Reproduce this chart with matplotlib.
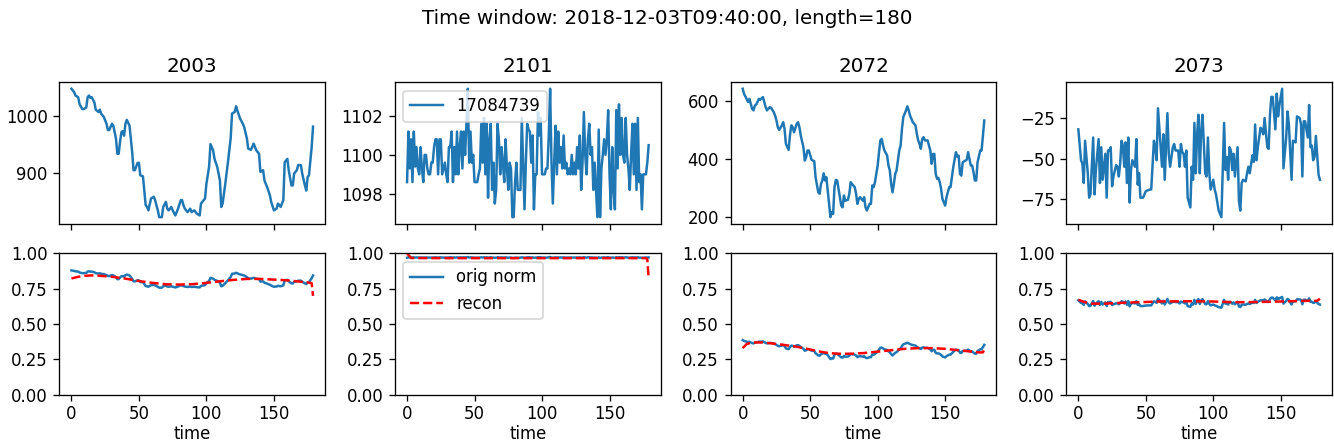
import matplotlib
matplotlib.use("Agg")
import matplotlib.pyplot as plt
import numpy as np

sensors = ["2003", "2101", "2072", "2073"]
legend_id = "17084739"
suptitle = "Time window: 2018-12-03T09:40:00, length=180"

# ---- sensor 2003 (time, value) ----
t_2003 = [0, 2, 3, 5, 6, 8, 9, 11, 12, 13, 14, 15, 17, 18, 20, 21, 22, 24, 26, 27, 28, 30, 31, 33, 34, 35, 36, 37, 38, 39,
          40, 41, 43, 44, 45, 46, 47, 49, 50, 51, 53, 55, 56, 57, 59, 61, 62, 64, 65, 67, 68, 70, 71, 72, 74, 75, 77, 79,
          81, 82, 83, 84, 86, 88, 89, 91, 93, 95, 96, 97, 99, 100, 102, 103, 105, 106, 108, 110, 111, 112, 114, 116, 118,
          119, 121, 122, 123, 125, 127, 128, 130, 131, 133, 135, 136, 137, 139, 140, 142, 143, 145, 147, 148, 150, 152,
          153, 155, 157, 158, 160, 161, 163, 164, 165, 167, 168, 170, 171, 173, 174, 175, 176, 178, 179]
v_2003 = [1049, 1043, 1037, 1034, 1022, 1013, 1013, 1016, 1034, 1037, 1033, 1034, 1025, 1012, 1008, 1012, 1005, 999, 987,
          976, 976, 987, 984, 961, 934, 934, 955, 972, 974, 966, 987, 994, 984, 961, 937, 905, 905, 918, 918, 896, 894,
          843, 840, 834, 855, 858, 852, 834, 822, 822, 840, 849, 837, 834, 840, 834, 825, 837, 852, 852, 843, 837, 831,
          837, 831, 834, 828, 825, 846, 849, 855, 881, 911, 951, 940, 925, 911, 887, 840, 846, 881, 920, 962, 1005, 1008,
          1018, 1010, 996, 987, 981, 961, 943, 941, 952, 946, 940, 934, 902, 905, 887, 875, 861, 849, 834, 837, 846, 840,
          852, 919, 925, 905, 878, 878, 899, 905, 914, 914, 899, 878, 869, 893, 896, 946, 982]

# ---- sensor 2101 (one value per time step) ----
v_2101 = [1098.6, 1101.2, 1099.3, 1100.8, 1098.6, 1101.2, 1099.4, 1100.4, 1099.3, 1099.0,
          1100.4, 1099.3, 1098.6, 1100.0, 1100.0, 1099.3, 1099.0, 1099.0, 1099.6, 1099.6,
          1100.4, 1100.8, 1100.8, 1099.0, 1100.8, 1100.8, 1099.0, 1099.3, 1099.6, 1099.0,
          1098.6, 1100.4, 1100.4, 1101.2, 1098.6, 1100.4, 1099.0, 1101.2, 1099.0, 1100.4,
          1101.2, 1099.3, 1101.2, 1100.0, 1101.6, 1103.4, 1099.6, 1101.2, 1099.6, 1100.0,
          1098.6, 1098.6, 1098.6, 1099.0, 1099.3, 1101.6, 1099.6, 1101.9, 1099.0, 1101.6,
          1097.8, 1100.8, 1101.6, 1098.2, 1099.6, 1097.5, 1098.2, 1101.6, 1100.8, 1099.0,
          1100.4, 1099.6, 1098.6, 1100.8, 1099.3, 1098.2, 1099.6, 1099.3, 1096.8, 1096.8,
          1098.6, 1099.6, 1098.2, 1098.2, 1098.2, 1101.9, 1099.6, 1097.2, 1099.6, 1101.6,
          1101.3, 1101.2, 1099.6, 1101.0, 1097.2, 1099.0, 1099.0, 1102.2, 1101.0, 1101.9,
          1099.0, 1099.0, 1099.0, 1099.3, 1099.3, 1101.0, 1103.4, 1099.6, 1097.5, 1099.6,
          1101.5, 1099.0, 1101.2, 1099.6, 1100.4, 1099.3, 1101.0, 1099.3, 1099.6, 1099.0,
          1099.3, 1099.0, 1100.0, 1099.0, 1099.6, 1099.0, 1100.4, 1099.3, 1101.0, 1098.2,
          1099.6, 1102.2, 1100.0, 1099.0, 1100.8, 1101.6, 1100.0, 1100.4, 1098.2, 1099.6,
          1098.2, 1096.8, 1101.3, 1096.8, 1099.3, 1100.0, 1100.8, 1100.0, 1100.8, 1102.3,
          1099.0, 1097.2, 1100.4, 1098.2, 1097.2, 1102.3, 1099.3, 1102.6, 1100.0, 1101.9,
          1100.0, 1099.6, 1101.9, 1100.0, 1099.3, 1098.2, 1100.0, 1101.6, 1099.0, 1101.6,
          1098.2, 1101.9, 1098.6, 1099.0, 1097.2, 1099.0, 1099.0, 1099.0, 1099.6, 1100.5]
t_2101 = list(range(len(v_2101)))

# ---- sensor 2072 (time, value) ----
t_2072 = [0, 1, 2, 4, 5, 6, 7, 8, 9, 10, 12, 13, 15, 16, 17, 18, 20, 21, 23, 24, 25, 26, 27, 29, 30, 31, 32, 34, 35, 36,
          37, 38, 40, 41, 42, 43, 45, 46, 47, 48, 49, 51, 52, 53, 54, 56, 57, 58, 59, 60, 61, 62, 63, 65, 66, 67, 68, 69,
          70, 72, 73, 74, 75, 76, 78, 79, 80, 81, 83, 84, 85, 86, 87, 89, 90, 91, 92, 94, 95, 96, 97, 98, 99, 100, 101,
          102, 103, 104, 105, 107, 108, 109, 110, 111, 112, 113, 114, 116, 117, 118, 119, 121, 122, 123, 124, 125, 126,
          128, 129, 130, 131, 132, 133, 134, 135, 137, 138, 139, 140, 141, 142, 143, 144, 145, 146, 147, 148, 150, 151,
          152, 153, 154, 155, 156, 158, 159, 160, 161, 162, 163, 165, 166, 167, 168, 169, 170, 171, 172, 173, 174, 176,
          177, 178, 179]
v_2072 = [643, 625, 616, 597, 608, 591, 573, 568, 585, 588, 608, 605, 614, 597, 579, 568, 579, 577, 562, 550, 533, 510,
          500, 516, 527, 504, 452, 431, 481, 516, 510, 492, 521, 527, 510, 481, 440, 394, 406, 429, 429, 397, 394, 392,
          336, 284, 279, 313, 325, 350, 325, 336, 290, 198, 215, 209, 302, 327, 325, 267, 238, 232, 273, 255, 258, 279,
          319, 313, 302, 279, 244, 261, 267, 255, 267, 232, 221, 244, 244, 308, 302, 319, 348, 377, 423, 464, 469, 446,
          429, 412, 377, 360, 313, 284, 313, 348, 360, 429, 446, 504, 545, 568, 582, 568, 550, 539, 527, 516, 487, 464,
          452, 435, 469, 475, 464, 464, 446, 429, 383, 417, 417, 348, 331, 334, 319, 296, 261, 238, 267, 284, 302, 302,
          336, 371, 423, 408, 411, 348, 342, 388, 394, 397, 423, 400, 377, 377, 354, 325, 325, 388, 429, 429, 481, 533]

# ---- sensor 2073 (time, value) ----
t_2073 = [0, 2, 3, 4, 5, 6, 7, 8, 9, 11, 12, 13, 15, 16, 17, 18, 20, 21, 22, 23, 24, 25, 26, 28, 29, 30, 31, 32, 33, 34,
          35, 36, 37, 38, 39, 40, 42, 43, 44, 45, 46, 48, 50, 53, 54, 56, 57, 58, 59, 61, 62, 63, 64, 66, 67, 68, 70, 71,
          72, 74, 75, 76, 77, 78, 79, 80, 81, 83, 84, 85, 86, 87, 88, 89, 90, 91, 92, 94, 95, 96, 97, 98, 100, 101, 102,
          104, 106, 107, 108, 109, 110, 111, 112, 113, 114, 115, 116, 118, 119, 120, 121, 122, 124, 125, 126, 127, 129,
          130, 131, 132, 133, 135, 136, 137, 138, 140, 141, 142, 143, 144, 146, 147, 148, 149, 151, 152, 154, 155, 156,
          158, 159, 161, 162, 164, 165, 166, 167, 168, 170, 171, 172, 173, 174, 175, 176, 178, 179]
v_2073 = [-32, -51, -53, -65, -39, -49, -59, -74, -72, -37, -72, -57, -38, -65, -43, -63, -47, -74, -45, -45, -43, -67,
          -61, -54, -55, -61, -53, -39, -42, -55, -40, -65, -37, -77, -57, -51, -55, -38, -66, -59, -74, -74, -70, -69,
          -69, -39, -43, -51, -19, -43, -55, -35, -63, -22, -47, -55, -43, -41, -45, -45, -55, -41, -46, -47, -55, -45,
          -74, -80, -55, -63, -28, -59, -35, -23, -59, -33, -23, -59, -61, -37, -58, -69, -63, -69, -72, -82, -86, -57,
          -28, -57, -49, -63, -43, -45, -57, -47, -61, -43, -76, -82, -65, -63, -64, -59, -55, -59, -48, -52, -29, -51,
          -43, -31, -32, -35, -25, -43, -44, -23, -12, -12, -32, -10, -24, -17, -7, -56, -37, -21, -29, -63, -39, -40,
          -24, -25, -29, -61, -27, -27, -37, -17, -43, -42, -51, -49, -36, -60, -63]

# normalisation ranges (min, max) used for the "orig norm" curves
norm_min = [-588.0, 0.0, -639.0, -727.0]
norm_max = [1272.0, 1132.0, 2681.0, 313.0]

# reconstructions (time, value)
rt_2003 = [0, 5, 10, 15, 20, 30, 40, 50, 60, 70, 80, 90, 100, 110, 120, 130, 140, 150, 160, 170, 175, 178, 179]
rv_2003 = [0.823, 0.835, 0.842, 0.845, 0.843, 0.835, 0.822, 0.805, 0.792, 0.782, 0.780, 0.783, 0.792, 0.803, 0.813,
           0.820, 0.820, 0.815, 0.810, 0.800, 0.795, 0.790, 0.700]
rt_2101 = [0, 3, 20, 50, 100, 150, 177, 178, 179]
rv_2101 = [1.000, 0.968, 0.967, 0.967, 0.967, 0.967, 0.967, 0.960, 0.820]
rt_2072 = [0, 3, 8, 15, 25, 40, 50, 60, 70, 80, 90, 100, 110, 120, 130, 140, 150, 160, 170, 175, 178, 179]
rv_2072 = [0.330, 0.360, 0.370, 0.370, 0.360, 0.340, 0.320, 0.300, 0.290, 0.290, 0.295, 0.305, 0.315, 0.325, 0.330,
           0.330, 0.325, 0.315, 0.305, 0.300, 0.300, 0.320]
rt_2073 = [0, 5, 10, 20, 30, 45, 60, 80, 100, 115, 130, 150, 170, 177, 179]
rv_2073 = [0.672, 0.655, 0.645, 0.645, 0.650, 0.655, 0.660, 0.662, 0.660, 0.655, 0.656, 0.660, 0.665, 0.665, 0.680]

T = [t_2003, t_2101, t_2072, t_2073]
V = [v_2003, v_2101, v_2072, v_2073]
RT = [rt_2003, rt_2101, rt_2072, rt_2073]
RV = [rv_2003, rv_2101, rv_2072, rv_2073]

DPI = 119
fig, axes = plt.subplots(2, 4, figsize=(1334 / DPI, 445 / DPI), dpi=DPI, sharex=True)
fig.subplots_adjust(left=0.0445, right=0.9985, top=0.815, bottom=0.113, wspace=0.263, hspace=0.212)
fig.suptitle(suptitle, fontsize=12)

for i, name in enumerate(sensors):
    t = np.array(T[i])
    v = np.array(V[i], dtype=float)
    ax = axes[0, i]
    ax.plot(t, v, color="#1f77b4", label=legend_id)
    ax.set_title(name, fontsize=12)
    if i == 1:
        ax.legend(loc="upper left")
    ax2 = axes[1, i]
    norm = (v - norm_min[i]) / (norm_max[i] - norm_min[i])
    ax2.plot(t, norm, color="#1f77b4", label="orig norm")
    ax2.plot(RT[i], RV[i], "r--", label="recon")
    ax2.set_ylim(0, 1)
    ax2.set_yticks([0, 0.25, 0.5, 0.75, 1.0])
    ax2.set_xlabel("time", labelpad=1.5)
    ax2.tick_params(axis="x", pad=2.5)
    if i == 1:
        ax2.legend(loc="upper left")

fig.savefig("out.png", dpi=DPI)
